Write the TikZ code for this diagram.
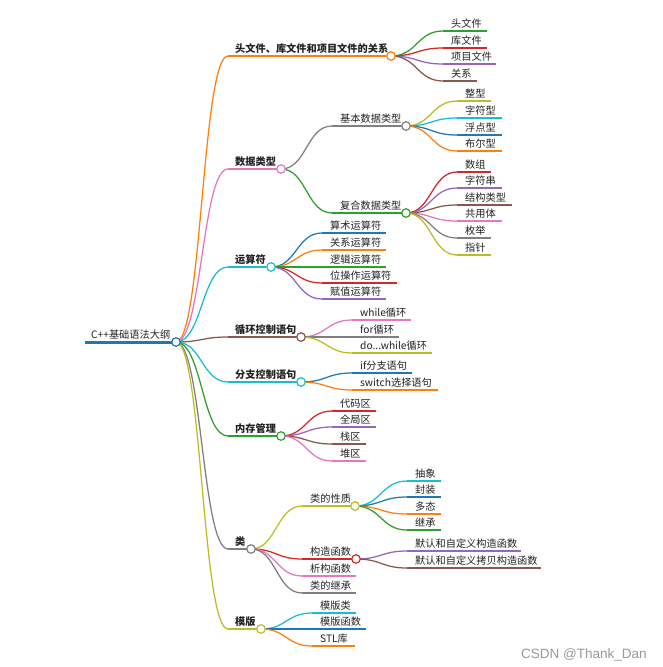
\documentclass[tikz,border=0pt]{standalone}
\usepackage{fontspec}
\newfontfamily\cjk{Noto Sans CJK SC}
\newfontfamily\wmfont{Liberation Sans}
\usetikzlibrary{calc}
\pgfdeclarelayer{back}
\pgfdeclarelayer{bg}
\pgfsetlayers{back,bg,main}
\definecolor{cBlue}{HTML}{1F77B4}
\definecolor{cOrange}{HTML}{FF7F0E}
\definecolor{cGreen}{HTML}{2CA02C}
\definecolor{cRed}{HTML}{D62728}
\definecolor{cPurple}{HTML}{9467BD}
\definecolor{cBrown}{HTML}{8C564B}
\definecolor{cPink}{HTML}{E377C2}
\definecolor{cGray}{HTML}{7F7F7F}
\definecolor{cOlive}{HTML}{BCBD22}
\definecolor{cCyan}{HTML}{17BECF}
\definecolor{txt}{HTML}{222222}
\tikzset{
  lbl/.style={anchor=base west, inner sep=0pt, text=txt, font=\cjk\fontsize{10.2}{12}\selectfont},
  lblb/.style={lbl, font=\cjk\bfseries\fontsize{10.2}{12}\selectfont},
  uline/.style={line width=1.35pt},
  link/.style={line width=1.25pt},
  dot/.style={circle, draw, fill=white, line width=1.2pt, minimum size=8.5pt, inner sep=0pt},
}
% \mmitem{name}{color}{line start x}{line end x}{y}{text x}{style}{text}
\newcommand\mmitem[8]{%
  \coordinate (#1-s) at (#3,#5);
  \coordinate (#1-e) at (#4,#5);
  \begin{pgfonlayer}{bg}\draw[uline,#2] (#1-s) -- (#1-e);\end{pgfonlayer}
  \node[#7] (#1) at (#6,#5-4) {#8};
}
% \mmdot{name}{color}
\newcommand\mmdot[2]{\node[dot,draw=#2] (#1-c) at (#1-e) {};}
% \mmlink{color}{parent}{child}
\newcommand\mmlink[3]{%
  \begin{pgfonlayer}{bg}
  \draw[link,#1] let \p1=(#2-c.center), \p2=(#3-s) in
    (\p1) .. controls ({(\x1+\x2)/2},\y1) and ({(\x1+\x2)/2},\y2) .. (\p2);
  \end{pgfonlayer}
}
\begin{document}
\begin{tikzpicture}[x=1pt,y=-1pt]
\begin{pgfonlayer}{back}
\fill[white] (0,0) rectangle (663,667);
\end{pgfonlayer}
\useasboundingbox (0,0) rectangle (663,667);
% root
\coordinate (root-s) at (85,342);
\coordinate (root-e) at (176,342);
\begin{pgfonlayer}{bg}\draw[line width=3pt,cBlue] (root-s) -- (root-e);\end{pgfonlayer}
\node[lbl] (root) at (91,338) {C++基础语法大纲};
\node[dot,draw=cBlue] (root-c) at (root-e) {};

% level 1
\mmitem{hdr}{cOrange}{228}{391}{56}{235}{lblb}{头文件、库文件和项目文件的关系}
\mmitem{dt}{cPink}{228}{281}{169}{235}{lblb}{数据类型}
\mmitem{op}{cCyan}{228}{271}{267}{235}{lblb}{运算符}
\mmitem{loop}{cBrown}{228}{301}{337}{235}{lblb}{循环控制语句}
\mmitem{br}{cCyan}{228}{301}{382}{235}{lblb}{分支控制语句}
\mmitem{mem}{cGreen}{228}{281}{436}{235}{lblb}{内存管理}
\mmitem{cls}{cGray}{228}{251}{549}{235}{lblb}{类}
\mmitem{tpl}{cOlive}{228}{261}{629}{235}{lblb}{模版}
\mmdot{hdr}{cOrange}\mmlink{cOrange}{root}{hdr}
\mmdot{dt}{cPink}\mmlink{cPink}{root}{dt}
\mmdot{op}{cCyan}\mmlink{cCyan}{root}{op}
\mmdot{loop}{cBrown}\mmlink{cBrown}{root}{loop}
\mmdot{br}{cCyan}\mmlink{cCyan}{root}{br}
\mmdot{mem}{cGreen}\mmlink{cGreen}{root}{mem}
\mmdot{cls}{cGray}\mmlink{cGray}{root}{cls}
\mmdot{tpl}{cOlive}\mmlink{cOlive}{root}{tpl}

% header children
\mmitem{h1}{cGreen}{443}{487}{31}{451}{lbl}{头文件}
\mmitem{h2}{cRed}{443}{487}{48}{451}{lbl}{库文件}
\mmitem{h3}{cPurple}{443}{496}{64}{451}{lbl}{项目文件}
\mmitem{h4}{cBrown}{443}{477}{81}{451}{lbl}{关系}
\mmlink{cGreen}{hdr}{h1}\mmlink{cRed}{hdr}{h2}\mmlink{cPurple}{hdr}{h3}\mmlink{cBrown}{hdr}{h4}

% data types
\mmitem{basic}{cGray}{332}{406}{126}{340}{lbl}{基本数据类型}
\mmitem{comp}{cGreen}{332}{406}{213}{340}{lbl}{复合数据类型}
\mmdot{basic}{cGray}\mmdot{comp}{cGreen}
\mmlink{cGray}{dt}{basic}\mmlink{cGreen}{dt}{comp}

\mmitem{b1}{cOlive}{457}{491}{101}{465}{lbl}{整型}
\mmitem{b2}{cCyan}{457}{502}{118}{465}{lbl}{字符型}
\mmitem{b3}{cBlue}{457}{502}{135}{465}{lbl}{浮点型}
\mmitem{b4}{cOrange}{457}{502}{151}{465}{lbl}{布尔型}
\mmlink{cOlive}{basic}{b1}\mmlink{cCyan}{basic}{b2}\mmlink{cBlue}{basic}{b3}\mmlink{cOrange}{basic}{b4}

\mmitem{c1}{cRed}{457}{491}{172}{465}{lbl}{数组}
\mmitem{c2}{cPurple}{457}{502}{188}{465}{lbl}{字符串}
\mmitem{c3}{cBrown}{457}{512}{205}{465}{lbl}{结构类型}
\mmitem{c4}{cPink}{457}{502}{221}{465}{lbl}{共用体}
\mmitem{c5}{cGray}{457}{491}{238}{465}{lbl}{枚举}
\mmitem{c6}{cOlive}{457}{491}{255}{465}{lbl}{指针}
\mmlink{cRed}{comp}{c1}\mmlink{cPurple}{comp}{c2}\mmlink{cBrown}{comp}{c3}
\mmlink{cPink}{comp}{c4}\mmlink{cGray}{comp}{c5}\mmlink{cOlive}{comp}{c6}

% operators
\mmitem{o1}{cBlue}{322}{386}{233}{330}{lbl}{算术运算符}
\mmitem{o2}{cOrange}{322}{386}{250}{330}{lbl}{关系运算符}
\mmitem{o3}{cGreen}{322}{386}{267}{330}{lbl}{逻辑运算符}
\mmitem{o4}{cRed}{322}{397}{283}{330}{lbl}{位操作运算符}
\mmitem{o5}{cPurple}{322}{386}{299}{330}{lbl}{赋值运算符}
\mmlink{cBlue}{op}{o1}\mmlink{cOrange}{op}{o2}\mmlink{cGreen}{op}{o3}
\mmlink{cRed}{op}{o4}\mmlink{cPurple}{op}{o5}

% loops
\mmitem{l1}{cPink}{352}{411}{320}{360}{lbl}{while循环}
\mmitem{l2}{cGray}{352}{399}{337}{360}{lbl}{for循环}
\mmitem{l3}{cOlive}{352}{432}{353}{360}{lbl}{do...while循环}
\mmlink{cPink}{loop}{l1}\mmlink{cGray}{loop}{l2}\mmlink{cOlive}{loop}{l3}

% branches
\mmitem{r1}{cBlue}{352}{412}{373}{360}{lbl}{if分支语句}
\mmitem{r2}{cOrange}{352}{438}{390}{360}{lbl}{switch选择语句}
\mmlink{cBlue}{br}{r1}\mmlink{cOrange}{br}{r2}

% memory
\mmitem{m1}{cRed}{332}{376}{411}{340}{lbl}{代码区}
\mmitem{m2}{cPurple}{332}{376}{427}{340}{lbl}{全局区}
\mmitem{m3}{cBrown}{332}{366}{444}{340}{lbl}{栈区}
\mmitem{m4}{cPink}{332}{366}{461}{340}{lbl}{堆区}
\mmlink{cRed}{mem}{m1}\mmlink{cPurple}{mem}{m2}\mmlink{cBrown}{mem}{m3}\mmlink{cPink}{mem}{m4}

% class
\mmitem{k1}{cOlive}{302}{355}{506}{310}{lbl}{类的性质}
\mmitem{k2}{cRed}{302}{356}{559}{310}{lbl}{构造函数}
\mmitem{k3}{cPink}{302}{356}{576}{310}{lbl}{析构函数}
\mmitem{k4}{cGray}{302}{356}{593}{310}{lbl}{类的继承}
\mmdot{k1}{cOlive}\mmdot{k2}{cRed}
\mmlink{cOlive}{cls}{k1}\mmlink{cRed}{cls}{k2}\mmlink{cPink}{cls}{k3}\mmlink{cGray}{cls}{k4}

\mmitem{p1}{cCyan}{407}{441}{481}{415}{lbl}{抽象}
\mmitem{p2}{cBlue}{407}{441}{497}{415}{lbl}{封装}
\mmitem{p3}{cOrange}{407}{441}{514}{415}{lbl}{多态}
\mmitem{p4}{cGreen}{407}{441}{530}{415}{lbl}{继承}
\mmlink{cCyan}{k1}{p1}\mmlink{cBlue}{k1}{p2}\mmlink{cOrange}{k1}{p3}\mmlink{cGreen}{k1}{p4}

\mmitem{q1}{cPurple}{407}{521}{551}{415}{lbl}{默认和自定义构造函数}
\mmitem{q2}{cBrown}{407}{541}{568}{415}{lbl}{默认和自定义拷贝构造函数}
\mmlink{cPurple}{k2}{q1}\mmlink{cBrown}{k2}{q2}

% templates
\mmitem{t1}{cCyan}{312}{356}{613}{320}{lbl}{模版类}
\mmitem{t2}{cBlue}{312}{366}{629}{320}{lbl}{模版函数}
\mmitem{t3}{cOrange}{312}{355}{646}{320}{lbl}{STL库}
\mmlink{cCyan}{tpl}{t1}\mmlink{cBlue}{tpl}{t2}\mmlink{cOrange}{tpl}{t3}

% watermark
\node[anchor=base west, inner sep=0pt, text=black!40, font=\wmfont\fontsize{13.5}{15}\selectfont] (wm) at (521,658) {CSDN @Thank\_Dan};
\end{tikzpicture}
\end{document}
